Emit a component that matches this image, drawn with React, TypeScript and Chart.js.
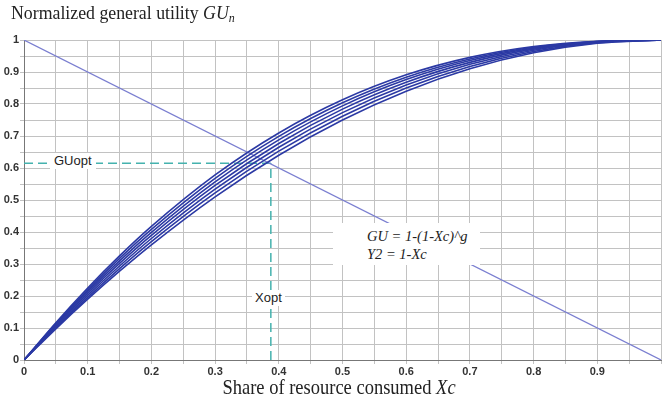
import React, { useEffect, useRef } from 'react';
import { Chart, registerables } from 'chart.js';

Chart.register(...registerables);

// Share of resource consumed (x) sample points
const xValues = [0, 0.05, 0.1, 0.15, 0.2, 0.3, 0.4, 0.5, 0.6, 0.7, 0.8, 0.9, 1];
// GU curves for several g values (read from picture / estimated)
const gu200 = [0, 0.0975, 0.19, 0.2775, 0.36, 0.51, 0.64, 0.75, 0.84, 0.91, 0.96, 0.99, 1];
const gu207 = [0, 0.1007, 0.1959, 0.2857, 0.3699, 0.5221, 0.6526, 0.7618, 0.8499, 0.9173, 0.9643, 0.9915, 1];
const gu214 = [0, 0.104, 0.2019, 0.2938, 0.3797, 0.5339, 0.6649, 0.7731, 0.8593, 0.924, 0.9681, 0.9928, 1];
const gu221 = [0, 0.1072, 0.2077, 0.3017, 0.3893, 0.5454, 0.6766, 0.7839, 0.868, 0.9301, 0.9715, 0.9938, 1];
const gu228 = [0, 0.1104, 0.2135, 0.3096, 0.3988, 0.5566, 0.688, 0.7941, 0.8762, 0.9358, 0.9745, 0.9948, 1];
const gu235 = [0, 0.1136, 0.2193, 0.3175, 0.4081, 0.5675, 0.6989, 0.8039, 0.8839, 0.9409, 0.9772, 0.9955, 1];
const gu242 = [0, 0.1167, 0.2251, 0.3252, 0.4173, 0.5782, 0.7095, 0.8131, 0.8911, 0.9457, 0.9797, 0.9962, 1];
// Y2 = 1 - Xc
const y2X = [0, 1];
const y2Y = [1, 0];
// Optimum
const xOpt = 0.3875;
const guOpt = 0.615;

const fmt = (k: number) => (k === 0 ? '0' : k === 100 ? '1' : '0.' + k / 10);

export default function App() {
  const ref = useRef<HTMLCanvasElement>(null);

  useEffect(() => {
    const curves = [gu200, gu207, gu214, gu221, gu228, gu235, gu242];
    const datasets: any[] = curves.map((ys) => ({
      data: xValues.map((x, i) => ({ x, y: ys[i] })),
      showLine: true,
      borderColor: '#2b39a4',
      borderWidth: 1.6,
      pointRadius: 0,
      cubicInterpolationMode: 'monotone',
      fill: false,
    }));
    datasets.push({
      data: y2X.map((x, i) => ({ x, y: y2Y[i] })),
      showLine: true,
      borderColor: '#7a7ed0',
      borderWidth: 1.2,
      pointRadius: 0,
      fill: false,
    });
    datasets.push({
      data: [
        { x: 0, y: guOpt },
        { x: xOpt, y: guOpt },
      ],
      showLine: true,
      borderColor: '#45b2ae',
      borderWidth: 1.5,
      borderDash: [9, 5],
      pointRadius: 0,
      fill: false,
    });
    datasets.push({
      data: [
        { x: xOpt, y: 0 },
        { x: xOpt, y: guOpt },
      ],
      showLine: true,
      borderColor: '#45b2ae',
      borderWidth: 1.5,
      borderDash: [9, 5],
      pointRadius: 0,
      fill: false,
    });

    const tickFont = { family: 'Liberation Sans', size: 11, weight: 'bold' as const };
    const chart = new Chart(ref.current!, {
      type: 'scatter',
      data: { datasets },
      options: {
        responsive: false,
        animation: false,
        devicePixelRatio: 1,
        plugins: { legend: { display: false }, tooltip: { enabled: false } },
        layout: { padding: { top: 40, left: 0, right: 0, bottom: 0 } },
        scales: {
          x: {
            type: 'linear',
            min: 0,
            max: 1,
            afterFit: (s: any) => {
              s.height = 40;
            },
            ticks: {
              stepSize: 0.05,
              autoSkip: false,
              maxRotation: 0,
              padding: 1,
              color: '#333',
              font: tickFont,
              callback: (v: any) => {
                const k = Math.round(Number(v) * 100);
                return k % 10 === 0 && k < 100 ? fmt(k) : '';
              },
            },
            grid: { color: '#c2c2c2', tickLength: 4, lineWidth: 1 },
            border: { color: '#777777' },
          },
          y: {
            type: 'linear',
            min: 0,
            max: 1,
            afterFit: (s: any) => {
              s.width = 24;
            },
            ticks: {
              stepSize: 0.05,
              autoSkip: false,
              padding: 1,
              color: '#333',
              font: tickFont,
              callback: (v: any) => {
                const k = Math.round(Number(v) * 100);
                return k % 10 === 0 ? fmt(k) : '';
              },
            },
            grid: { color: '#c2c2c2', tickLength: 4, lineWidth: 1 },
            border: { color: '#777777' },
          },
        },
      },
    } as any);
    return () => chart.destroy();
  }, []);

  const serif = '"Liberation Serif", "Times New Roman", serif';
  const sans = '"Liberation Sans", Arial, sans-serif';

  return (
    <div style={{ position: 'fixed', left: 0, top: 0, width: 662, height: 400, background: '#fff', overflow: 'hidden' }}>
      <canvas ref={ref} width={662} height={400} style={{ position: 'absolute', left: 0, top: 0, width: 662, height: 400 }} />
      <div style={{ position: 'absolute', left: 11, top: 3, fontFamily: serif, fontSize: 17.8, color: '#222', whiteSpace: 'nowrap', lineHeight: '20px' }}>
        Normalized general utility{' '}
        <i>
          GU<sub style={{ fontSize: 12, verticalAlign: '-3px', lineHeight: 0 }}>n</sub>
        </i>
      </div>
      <div
        style={{
          position: 'absolute',
          left: 0,
          width: 678,
          top: 377,
          textAlign: 'center',
          fontFamily: serif,
          fontSize: 18.5,
          color: '#222',
          whiteSpace: 'nowrap',
          lineHeight: '20px',
          transform: 'scaleY(1.12)',
        }}
      >
        Share of resource consumed <i>Xc</i>
      </div>
      <div style={{ position: 'absolute', left: 333, top: 223, width: 147, height: 42, background: '#fff' }}>
        <div style={{ position: 'absolute', left: 34, top: 4, fontFamily: serif, fontStyle: 'italic', fontSize: 14.5, color: '#222', lineHeight: '18px', whiteSpace: 'nowrap' }}>
          GU = 1-(1-Xc)^g
          <br />
          Y2 = 1-Xc
        </div>
      </div>
      <div style={{ position: 'absolute', left: 50, top: 153, padding: '0 4px', background: '#fff', fontFamily: sans, fontSize: 13, color: '#222', lineHeight: '16px' }}>
        GUopt
      </div>
      <div style={{ position: 'absolute', left: 252, top: 290, padding: '0 3px', background: '#fff', fontFamily: sans, fontSize: 13, color: '#222', lineHeight: '16px' }}>
        Xopt
      </div>
    </div>
  );
}
